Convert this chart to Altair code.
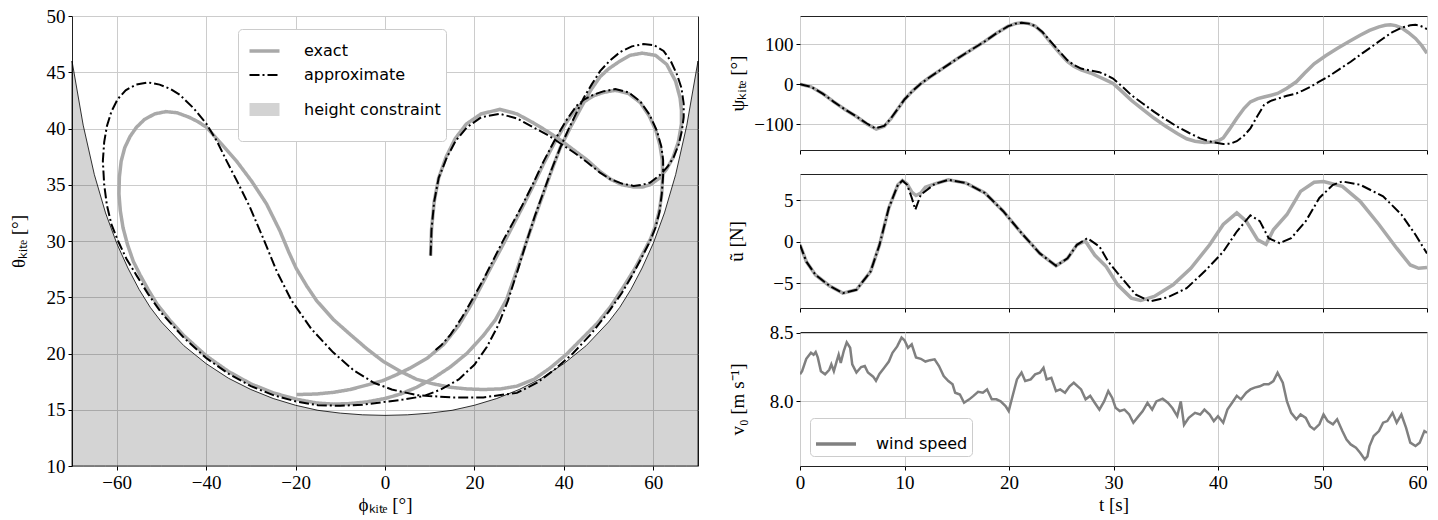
import altair as alt
import pandas as pd

SERIF = "Liberation Serif"
SANS = "DejaVu Sans"
GRAY = "#a9a9a9"

# ---------------- data ----------------
# height constraint boundary (phi [deg], theta [deg])
constraint = [(-70, 46.0), (-67.5, 40.3), (-65, 35.9), (-62.5, 32.5), (-60, 29.8), (-57.5, 27.6),
              (-55, 25.7), (-52.5, 24.1), (-50, 22.8), (-45, 20.7), (-40, 19.1), (-35, 17.8),
              (-30, 16.8), (-25, 16.0), (-20, 15.4), (-15, 14.95), (-10, 14.7), (-5, 14.55),
              (0, 14.5), (5, 14.55), (10, 14.7), (15, 14.95), (20, 15.4), (25, 16.0), (30, 16.8),
              (35, 17.8), (40, 19.1), (45, 20.7), (50, 22.8), (52.5, 24.1), (55, 25.7),
              (57.5, 27.6), (60, 29.8), (62.5, 32.5), (65, 35.9), (67.5, 40.3), (70, 46.0)]

exact_path = [
    (10.2, 28.7), (10.4, 31.0), (11.0, 33.5), (12.0, 35.6), (13.7, 37.5), (15.7, 39.1), (18.2, 40.4),
    (21.5, 41.3), (25.7, 41.7), (29.5, 41.3), (33.2, 40.5), (36.5, 39.7), (39.5, 38.9), (42.5, 38.0),
    (45.2, 37.2), (48.0, 36.2), (50.4, 35.5), (53.0, 35.0), (55.6, 34.8), (57.6, 34.8), (59.3, 35.0),
    (61.4, 35.6), (63.0, 36.4), (64.4, 37.4), (65.6, 38.8), (66.3, 40.4), (66.3, 41.6), (66.0, 42.7),
    (65.0, 44.2), (63.0, 45.7), (60.5, 46.5), (57.5, 46.7), (54.8, 46.5), (52.2, 45.9), (50.0, 45.3),
    (48.1, 44.6), (46.0, 43.4), (43.9, 41.9), (41.6, 40.2), (39.2, 38.3), (37.2, 36.2), (35.3, 34.1),
    (33.5, 32.1), (31.7, 30.0), (29.5, 27.4), (27.2, 24.8), (24.7, 23.0), (22.0, 21.6), (18.3, 20.0),
    (14.6, 18.8), (10.8, 17.8), (7.1, 17.0), (3.5, 16.4), (0.0, 16.0), (-4.0, 15.7), (-7.8, 15.55),
    (-11.5, 15.5), (-15.3, 15.6), (-20.0, 15.95), (-25.0, 16.5), (-30.0, 17.3), (-35.0, 18.4),
    (-40.0, 19.8), (-45.0, 21.6), (-48.0, 22.9), (-51.0, 24.4), (-53.0, 25.7), (-54.8, 27.0),
    (-56.3, 28.2), (-57.6, 29.7), (-58.6, 31.2), (-59.2, 32.7), (-59.5, 34.2), (-59.4, 35.7),
    (-59.0, 37.1), (-58.2, 38.3), (-57.0, 39.3), (-55.6, 40.1), (-53.8, 40.8), (-51.5, 41.3),
    (-49.0, 41.5), (-46.5, 41.4), (-43.8, 41.0), (-41.8, 40.6), (-39.9, 40.1), (-36.5, 38.6),
    (-33.2, 37.1), (-29.8, 35.3), (-26.5, 33.3), (-23.5, 30.9), (-21.5, 29.0), (-19.9, 27.6),
    (-17.5, 26.0), (-15.3, 24.7), (-11.5, 23.0), (-7.8, 21.7), (-4.0, 20.4), (-0.4, 19.3), (3.5, 18.4),
    (7.1, 17.7), (10.8, 17.3), (14.6, 17.0), (18.3, 16.85), (22.0, 16.8), (25.8, 16.85), (29.5, 17.1),
    (33.3, 17.7), (36.9, 18.7), (40.5, 19.9), (44.0, 21.3), (47.5, 22.7), (50.5, 24.2), (53.3, 25.9),
    (55.8, 27.5), (57.7, 28.9), (59.4, 30.2), (60.6, 31.5), (61.4, 32.8), (61.9, 34.2), (62.1, 35.8),
    (62.0, 37.2), (61.5, 38.5), (60.6, 39.8), (59.1, 41.1), (57.1, 42.3), (54.5, 43.1), (51.5, 43.4),
    (48.8, 43.2), (46.6, 42.9), (44.6, 42.4), (42.8, 41.8), (40.5, 40.5), (38.0, 38.8), (35.5, 36.9),
    (33.0, 34.8), (30.6, 32.9), (28.5, 31.3), (26.3, 29.6), (24.0, 27.9), (21.9, 26.3), (19.8, 24.7),
    (16.5, 22.5), (13.1, 20.8), (9.5, 19.6), (5.6, 18.7), (2.5, 18.1), (-0.4, 17.6), (-4.0, 17.2),
    (-7.8, 16.8), (-11.5, 16.55), (-15.3, 16.4), (-19.8, 16.35)]

approx_path = [
    (10.2, 28.7), (10.4, 31.0), (11.0, 33.5), (12.0, 35.6), (13.8, 37.4), (15.8, 38.9), (18.3, 40.1),
    (21.5, 41.0), (25.7, 41.3), (29.5, 40.9), (33.2, 40.1), (36.5, 39.4), (39.5, 38.6), (42.5, 37.8),
    (45.2, 37.0), (48.0, 36.1), (50.4, 35.5), (53.0, 35.1), (55.6, 34.9), (57.6, 35.0), (59.3, 35.2),
    (61.6, 35.9), (63.2, 36.6), (64.5, 37.4), (65.7, 38.6), (66.4, 39.8), (66.8, 41.0), (66.8, 42.2),
    (66.3, 43.6), (65.3, 44.8), (63.9, 46.0), (62.3, 46.9), (60.2, 47.4), (57.8, 47.5), (55.2, 47.3),
    (52.6, 46.8), (50.2, 46.0), (48.1, 45.1), (46.2, 43.9), (44.4, 42.7), (42.7, 41.3), (41.0, 39.9),
    (39.2, 38.3), (37.3, 36.4), (35.4, 34.3), (33.5, 32.2), (31.7, 30.0), (29.6, 27.3), (27.5, 24.7),
    (25.3, 22.5), (22.8, 20.6), (20.0, 19.0), (16.5, 17.7), (12.5, 16.8), (8.5, 16.2), (4.0, 15.9),
    (0.0, 15.7), (-5.0, 15.45), (-10.0, 15.35), (-15.0, 15.4), (-20.0, 15.75), (-25.0, 16.3),
    (-30.0, 17.1), (-35.0, 18.2), (-40.0, 19.6), (-45.0, 21.4), (-50.0, 23.6), (-53.0, 25.3),
    (-55.5, 26.9), (-57.8, 28.4), (-59.7, 30.0), (-61.2, 31.5), (-62.2, 33.2), (-62.8, 35.0),
    (-63.1, 37.1), (-62.8, 38.8), (-62.2, 40.2), (-61.2, 41.5), (-59.8, 42.6), (-58.0, 43.4),
    (-55.7, 43.9), (-53.0, 44.1), (-50.4, 43.9), (-47.9, 43.5), (-45.9, 43.0), (-42.8, 41.8),
    (-39.9, 40.4), (-37.5, 38.8), (-35.4, 37.1), (-32.8, 35.1), (-30.2, 33.0), (-27.2, 30.2),
    (-24.2, 27.3), (-20.9, 24.7), (-16.5, 22.2), (-11.6, 20.1), (-7.0, 18.5), (-2.5, 17.4), (1.5, 16.8),
    (7.1, 16.3), (14.6, 16.1), (22.0, 16.1), (29.5, 16.5), (34.0, 17.4), (38.0, 18.6), (42.0, 20.0),
    (46.0, 21.7), (50.0, 23.7), (53.0, 25.4), (55.5, 27.1), (57.5, 28.6), (59.3, 30.0), (60.5, 31.2),
    (61.4, 32.6), (61.9, 34.2), (62.2, 35.8), (62.2, 37.2), (61.8, 38.4), (60.8, 39.8), (59.2, 41.2),
    (57.1, 42.4), (54.5, 43.2), (51.5, 43.5), (48.8, 43.3), (46.6, 43.0), (44.6, 42.6), (42.8, 42.0),
    (40.5, 40.7), (38.0, 39.0), (35.5, 37.1), (33.0, 35.0), (30.6, 33.1), (28.7, 31.7), (26.5, 30.1),
    (24.2, 28.3), (21.9, 26.5), (19.8, 25.0), (17.2, 23.2), (14.7, 21.7), (12.5, 20.7), (11.0, 20.2)]

# heading angle psi_kite [deg] over time t [s]
psi_approx = [
    (0, 0), (1.05, -6.6), (2.2, -24), (3.24, -44), (4.3, -63), (5.43, -81), (6.4, -98), (7.18, -110),
    (8.06, -104), (8.7, -85), (9.37, -61), (10.0, -38), (10.69, -19), (11.5, 0), (12.44, 18),
    (13.7, 40), (15.07, 64), (16.4, 86), (17.7, 107), (18.8, 127), (19.89, 144), (20.6, 151),
    (21.2, 153), (21.9, 151), (22.5, 145), (23.2, 130), (23.8, 112), (24.7, 85), (25.58, 60),
    (26.2, 48), (26.9, 39), (27.8, 34), (28.65, 30), (29.3, 23), (29.96, 14), (30.8, -5), (31.7, -27),
    (32.8, -48), (33.9, -69), (35.0, -88), (36.1, -106), (37.2, -121), (38.3, -135), (39.4, -144),
    (40.5, -149), (41.2, -148), (41.8, -142), (42.5, -128), (43.1, -110), (43.8, -78), (44.4, -52),
    (45.0, -42), (45.7, -36), (46.6, -29), (47.5, -23), (48.1, -16), (48.8, -7), (49.6, 5), (50.5, 18),
    (51.6, 37), (52.7, 56), (53.8, 77), (54.9, 97), (55.8, 114), (56.7, 130), (57.6, 141), (58.4, 147),
    (58.9, 148), (59.3, 146), (59.7, 142), (60, 137)]
psi_exact = [
    (0, 0), (1.05, -6.6), (2.2, -24), (3.24, -44), (4.3, -63), (5.43, -81), (6.4, -99), (7.3, -112),
    (8.06, -105), (8.7, -86), (9.37, -61), (10.0, -38), (10.69, -19), (11.5, 0), (12.44, 18),
    (13.7, 40), (15.07, 64), (16.4, 86), (17.7, 107), (18.8, 127), (19.89, 144), (20.6, 151),
    (21.2, 153), (21.9, 151), (22.5, 145), (23.2, 129), (23.8, 110), (24.7, 82), (25.58, 57),
    (26.2, 45), (26.9, 36), (27.8, 28), (28.65, 18), (29.3, 10), (29.96, 1.7), (30.8, -18),
    (31.7, -40), (32.8, -63), (33.9, -85), (35.0, -105), (36.1, -123), (37.0, -136), (37.8, -142),
    (38.7, -145), (39.6, -144), (40.1, -140), (40.5, -134), (41.1, -112), (41.8, -85), (42.5, -60),
    (43.1, -44), (43.8, -36), (44.4, -32), (45.0, -28), (45.7, -23), (46.6, -10), (47.5, 6), (48.3, 28),
    (49.2, 51), (50.3, 71), (51.4, 89), (52.5, 106), (53.6, 122), (54.5, 134), (55.4, 143),
    (56.0, 147), (56.5, 148), (57.0, 146), (57.6, 140), (58.2, 129), (58.9, 114), (59.5, 96), (60, 77)]

# control input u~ [N]
u_approx = [
    (0, -0.36), (0.61, -2.4), (1.49, -4.0), (2.8, -5.3), (4.1, -6.2), (5.4, -5.8), (6.75, -3.6),
    (7.6, -0.4), (8.5, 4.1), (9.37, 6.9), (9.8, 7.4), (10.25, 6.9), (10.7, 5.3), (11.04, 3.9),
    (11.56, 5.7), (12.9, 7.0), (14.2, 7.5), (15.9, 7.1), (17.7, 5.9), (19.45, 3.7), (21.2, 1.05),
    (22.95, -1.4), (24.5, -2.9), (25.6, -2.0), (26.5, -0.36), (27.5, 0.44), (28.65, -0.56),
    (29.5, -2.4), (30.8, -4.4), (32.15, -6.4), (33.5, -7.2), (35.2, -6.7), (37.0, -5.6), (38.7, -3.6),
    (40.5, -1.2), (41.8, 1.25), (43.1, 3.2), (44.0, 2.5), (44.85, 0.44), (45.9, -0.16), (47.0, 0.44),
    (48.4, 2.5), (49.7, 5.3), (51.0, 6.9), (51.9, 7.3), (53.6, 6.9), (55.8, 5.5), (57.55, 3.3),
    (58.9, 0.85), (60, -1.4)]
u_exact = [
    (0, -0.36), (0.61, -2.4), (1.49, -4.0), (2.8, -5.3), (4.1, -6.2), (5.4, -5.8), (6.75, -3.6),
    (7.6, -0.4), (8.5, 4.1), (9.37, 6.9), (9.8, 7.4), (10.25, 7.0), (10.7, 6.0), (11.1, 5.6),
    (11.56, 5.9), (12.0, 6.6), (12.9, 7.0), (14.2, 7.5), (15.9, 7.1), (17.7, 5.9), (19.45, 3.7),
    (21.2, 1.05), (22.95, -1.4), (24.5, -2.9), (25.6, -2.0), (26.5, -0.36), (27.3, 0.1), (28.2, -1.6),
    (29.3, -3.0), (30.4, -5.2), (31.7, -6.8), (32.6, -7.1), (33.9, -6.6), (35.7, -5.2), (37.4, -3.2),
    (39.2, -0.36), (40.5, 2.1), (41.8, 3.5), (42.7, 2.5), (43.8, 0.24), (44.6, -0.3), (45.3, 1.45),
    (46.6, 3.3), (47.9, 6.1), (49.2, 7.2), (50.1, 7.3), (51.9, 6.7), (53.6, 4.9), (55.4, 2.1),
    (57.1, -0.77), (58.4, -2.8), (59.2, -3.2), (60, -3.1)]

# wind speed v0 [m/s]
wind = [
    (0, 8.197), (0.2, 8.22), (0.6, 8.31), (1.05, 8.354), (1.3, 8.34), (1.5, 8.36), (1.7, 8.32),
    (2.0, 8.22), (2.4, 8.197), (2.8, 8.23), (3.0, 8.27), (3.24, 8.22), (3.5, 8.29), (3.7, 8.34),
    (3.9, 8.28), (4.2, 8.37), (4.47, 8.43), (4.8, 8.39), (5.0, 8.27), (5.4, 8.21), (5.85, 8.25),
    (6.2, 8.257), (6.5, 8.21), (7.0, 8.18), (7.27, 8.15), (7.6, 8.2), (8.06, 8.245), (8.5, 8.29),
    (8.85, 8.354), (9.3, 8.40), (9.72, 8.464), (10.0, 8.445), (10.34, 8.39), (10.69, 8.415),
    (11.1, 8.32), (11.56, 8.31), (12.0, 8.29), (12.44, 8.30), (12.88, 8.306), (13.3, 8.257),
    (13.75, 8.184), (14.2, 8.148), (14.6, 8.124), (14.85, 8.063), (15.3, 8.05), (15.7, 7.99),
    (16.2, 8.015), (16.6, 8.04), (17.04, 8.07), (17.5, 8.063), (17.9, 8.087), (18.35, 8.015),
    (18.8, 8.015), (19.2, 8.0), (19.67, 7.966), (19.97, 7.93), (20.3, 8.027), (20.76, 8.16),
    (21.2, 8.21), (21.55, 8.148), (22.08, 8.16), (22.5, 8.197), (22.95, 8.209), (23.3, 8.245),
    (23.6, 8.16), (24.05, 8.172), (24.5, 8.075), (24.9, 8.087), (25.36, 8.063), (25.8, 8.11),
    (26.2, 8.136), (26.9, 8.087), (27.33, 8.015), (27.77, 8.04), (28.2, 7.99), (28.65, 7.94),
    (29.1, 8.0), (29.5, 8.075), (29.87, 8.027), (30.2, 7.954), (30.6, 7.93), (31.05, 7.94),
    (31.5, 7.905), (31.9, 7.845), (32.4, 7.893), (32.8, 7.93), (33.25, 7.99), (33.7, 7.94),
    (34.1, 8.0), (34.7, 8.02), (35.2, 7.99), (35.65, 7.95), (36.1, 7.893), (36.44, 8.0), (36.75, 7.83),
    (37.2, 7.88), (37.8, 7.917), (38.3, 7.905), (38.7, 7.94), (39.2, 7.905), (39.6, 7.857),
    (40.0, 7.893), (40.5, 7.845), (40.9, 7.94), (41.35, 7.99), (41.8, 8.04), (42.2, 8.015),
    (42.7, 8.063), (43.1, 8.087), (43.5, 8.1), (44.0, 8.11), (44.4, 8.124), (44.85, 8.124),
    (45.3, 8.148), (45.7, 8.209), (46.2, 8.136), (46.6, 8.0), (47.0, 7.917), (47.5, 7.87),
    (47.9, 7.905), (48.4, 7.88), (48.8, 7.82), (49.2, 7.796), (49.7, 7.833), (50.1, 7.905),
    (50.5, 7.857), (51.0, 7.833), (51.4, 7.87), (51.9, 7.784), (52.3, 7.723), (52.7, 7.687),
    (53.2, 7.663), (53.6, 7.626), (54.05, 7.578), (54.3, 7.60), (54.5, 7.675), (54.9, 7.748),
    (55.4, 7.784), (55.8, 7.845), (56.2, 7.857), (56.7, 7.917), (57.1, 7.845), (57.55, 7.905),
    (58.0, 7.808), (58.4, 7.7), (58.9, 7.675), (59.3, 7.7), (59.75, 7.784), (60, 7.772)]

KINDS = ["exact", "approximate", "height constraint"]


def path_df(path, kind):
    return pd.DataFrame({"phi": [p[0] for p in path], "theta": [p[1] for p in path],
                         "kind": kind, "i": list(range(len(path)))})


def ts_df(series):
    return pd.DataFrame({"t": [p[0] for p in series], "v": [p[1] for p in series]})


con_df = pd.DataFrame({"phi": [p[0] for p in constraint], "theta": [p[1] for p in constraint]})

# ---------------- left panel ----------------
xs = alt.Scale(domain=[-70, 70], nice=False, zero=False)
ys = alt.Scale(domain=[10, 50], nice=False, zero=False)

area = alt.Chart(con_df).mark_area(fill="black", fillOpacity=0.17, stroke="black",
                                   strokeWidth=0.8).encode(
    x=alt.X("phi:Q", scale=xs, axis=alt.Axis(values=list(range(-60, 61, 20)),
                                             title="ϕₖᵢₜₑ [°]", titlePadding=3)),
    y=alt.Y("theta:Q", scale=ys, axis=alt.Axis(values=list(range(10, 51, 5)),
                                               title="θₖᵢₜₑ [°]", titlePadding=18)),
    y2=alt.datum(10),
)

leg = alt.Legend(title=None, orient="none", legendX=166, legendY=13, fillColor="white",
                 strokeColor="#cccccc", cornerRadius=4, padding=5, labelFont=SANS,
                 labelFontSize=16, labelColor="black", symbolType="stroke", symbolSize=900,
                 rowPadding=0, labelOffset=18)


def traj_layer(df):
    return alt.Chart(df).mark_line(clip=True, strokeCap="butt").encode(
        x=alt.X("phi:Q", scale=xs),
        y=alt.Y("theta:Q", scale=ys),
        order="i:Q",
        color=alt.Color("kind:N", scale=alt.Scale(domain=KINDS, range=[GRAY, "black", "#d3d3d3"]),
                        legend=leg),
        strokeDash=alt.StrokeDash("kind:N", scale=alt.Scale(domain=KINDS,
                                  range=[[1, 0], [10, 3, 2, 3], [1, 0]]), legend=leg),
        strokeWidth=alt.StrokeWidth("kind:N", scale=alt.Scale(type="ordinal", domain=KINDS,
                                    range=[3.5, 2.0, 13.0]), legend=leg),
    )


left = alt.layer(area, traj_layer(path_df(exact_path, "exact")),
                 traj_layer(path_df(approx_path, "approximate"))).properties(width=626, height=450)

# ---------------- right panels ----------------
ts = alt.Scale(domain=[0, 60], nice=False, zero=False)


def t_axis(labels):
    if labels:
        return alt.Axis(values=list(range(0, 61, 10)), title="t [s]", titlePadding=3,
                        labelAlign={"condition": {"test": "datum.value >= 60", "value": "right"},
                                    "value": "center"})
    return alt.Axis(values=list(range(0, 61, 10)), labels=False, title=None)


def pair_panel(ex, ap, dom, ticks, title, tpad):
    ysc = alt.Scale(domain=dom, nice=False, zero=False)
    yax = alt.Axis(values=ticks, title=title, titlePadding=tpad)
    g = alt.Chart(ts_df(ex)).mark_line(color=GRAY, strokeWidth=3.5, clip=True).encode(
        x=alt.X("t:Q", scale=ts, axis=t_axis(False)), y=alt.Y("v:Q", scale=ysc, axis=yax))
    b = alt.Chart(ts_df(ap)).mark_line(color="black", strokeWidth=2, strokeDash=[10, 3, 2, 3],
                                       clip=True).encode(
        x=alt.X("t:Q", scale=ts), y=alt.Y("v:Q", scale=ysc))
    return alt.layer(g, b).properties(width=627, height=134)


top = pair_panel(psi_exact, psi_approx, [-164, 170], [-100, 0, 100], "ψₖᵢₜₑ [°]", 6)
mid = pair_panel(u_exact, u_approx, [-8.0, 8.2], [-5, 0, 5], "ũ [N]", 26)

wdf = ts_df(wind)
wdf["lab"] = "wind speed"
bot = alt.Chart(wdf).mark_line(strokeWidth=2.5, clip=True).encode(
    x=alt.X("t:Q", scale=ts, axis=t_axis(True)),
    y=alt.Y("v:Q", scale=alt.Scale(domain=[7.53, 8.505], nice=False, zero=False),
            axis=alt.Axis(values=[8.0, 8.5], format=".1f", title="v₀ [m s⁻¹]", titlePadding=22)),
    color=alt.Color("lab:N", scale=alt.Scale(domain=["wind speed"], range=["#808080"]),
                    legend=alt.Legend(title=None, orient="bottom-left", offset=10,
                                      fillColor="white", strokeColor="#cccccc", cornerRadius=4,
                                      padding=4, labelFont=SANS, labelFontSize=16,
                                      labelColor="black", symbolType="stroke", symbolSize=1600,
                                      symbolStrokeWidth=3.5, labelOffset=18)),
).properties(width=627, height=134)

right = alt.vconcat(top, mid, bot, spacing=24, bounds="flush").resolve_scale(
    color="independent").resolve_legend(color="independent")

chart = alt.hconcat(left, right, spacing=102, bounds="flush").resolve_scale(
    color="independent", strokeDash="independent", strokeWidth="independent"
).resolve_legend(
    color="independent", strokeDash="independent", strokeWidth="independent"
).properties(
    padding={"left": 0, "top": -2, "right": 0, "bottom": 0}
).configure_axis(
    labelFont=SERIF, labelFontSize=19, labelColor="black", titleFont=SERIF, titleFontSize=19,
    titleFontWeight="normal", titleColor="black", tickColor="black", tickSize=4, domain=False,
    gridColor="#cccccc", gridWidth=1, grid=True, labelFlush=False, labelOverlap=False,
    labelPadding=3,
).configure_view(stroke="#222222", strokeWidth=1)

chart.save("out.html", embed_options={"renderer": "svg", "actions": False})
